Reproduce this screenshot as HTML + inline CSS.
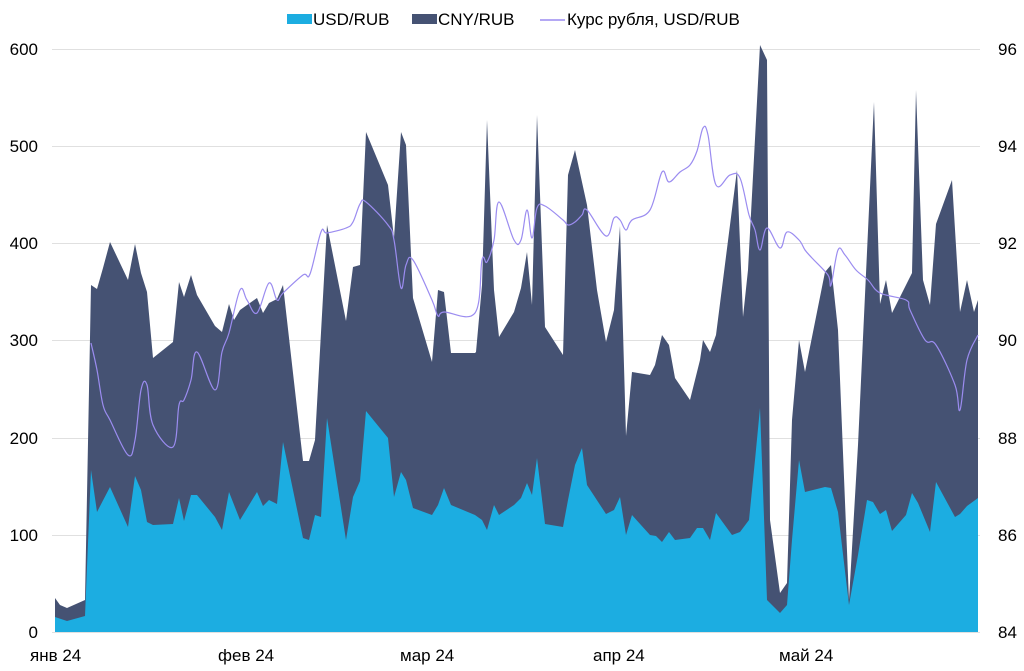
<!DOCTYPE html>
<html><head><meta charset="utf-8"><style>
body{margin:0;background:#fff;}
svg{display:block;font-family:"Liberation Sans",sans-serif;}
</style></head><body>
<svg width="1024" height="671" xmlns="http://www.w3.org/2000/svg">
<g stroke="#e0e0e0" stroke-width="1">
<line x1="52" y1="49.5" x2="980" y2="49.5"/>
<line x1="52" y1="146.5" x2="980" y2="146.5"/>
<line x1="52" y1="243.5" x2="980" y2="243.5"/>
<line x1="52" y1="340.5" x2="980" y2="340.5"/>
<line x1="52" y1="438.5" x2="980" y2="438.5"/>
<line x1="52" y1="535.5" x2="980" y2="535.5"/>
<line x1="52" y1="632.5" x2="980" y2="632.5"/>
</g>
<polygon fill="#455273" points="55,632 55,598 60,605 67,608 85,600 91,285 97,289 103,268 110,242 128,280 135,244 141,273 147,292 153,358 173,342 179,282 184,297 191,275 197,295 215,326 222,332 229,304 234,320 240,310 257,298 263,313 269,303 277,299 283,285 303,461 309,461 315,440 327,225 346,321 353,267 360,265 366,132 388,185 394,238 401,132 406,145 413,298 432,362 438,290 444,292 451,353 475,353 476,352 482,285 487,120 494,290 499,337 514,312 521,288 527,252 532,305 537,115 545,327 563,355 568,175 575,150 587,205 597,290 606,342 614,310 620,226 626,436 632,372 650,375 655,365 662,335 669,345 675,378 690,400 700,360 703,340 710,352 716,335 737,170 743,317 748,270 760,45 767,60 770,520 780,593 787,583 792,420 799,340 805,372 825,272 831,265 838,330 849,600 858,445 874,102 880,304 886,280 892,313 912,273 916,90 923,280 930,305 936,224 952,180 960,312 967,280 974,312 978,300 978,632"/>
<polygon fill="#1cade1" points="55,632 55,617 67,621 85,616 91,470 97,512 110,487 128,527 135,476 141,490 147,522 153,525 173,524 179,498 184,521 191,495 197,495 215,517 222,530 229,492 240,520 257,492 263,506 269,500 277,504 283,442 303,538 309,540 315,515 321,517 327,418 346,540 353,497 360,481 366,411 388,438 394,497 401,472 406,480 413,508 432,515 438,505 444,488 451,505 475,515 482,520 487,530 494,505 499,515 514,505 521,498 527,483 532,495 537,458 545,524 563,527 568,500 575,465 582,448 587,485 606,514 614,510 620,497 626,535 632,515 650,535 656,536 662,542 669,532 675,540 690,538 697,528 703,528 710,540 716,513 732,535 740,532 749,520 755,460 760,408 767,600 780,613 787,605 792,540 799,460 805,492 825,487 831,488 838,512 849,605 858,555 867,500 873,502 880,514 886,510 892,531 906,515 912,493 918,503 930,532 936,482 955,517 960,514 967,506 978,498 978,632"/>
<path id="rate" fill="none" stroke="#9b8cf0" stroke-width="1.2" stroke-linejoin="round" d=""/>
<g font-size="17" fill="#000">
<g text-anchor="end">
<text x="38" y="55">600</text><text x="38" y="152">500</text><text x="38" y="249">400</text><text x="38" y="346">300</text><text x="38" y="444">200</text><text x="38" y="541">100</text><text x="38" y="638">0</text>
</g>
<g text-anchor="start">
<text x="998" y="55">96</text><text x="998" y="152">94</text><text x="998" y="249">92</text><text x="998" y="346">90</text><text x="998" y="444">88</text><text x="998" y="541">86</text><text x="998" y="638">84</text>
</g>
<text x="30" y="661">янв 24</text><text x="218" y="661">фев 24</text><text x="400" y="661">мар 24</text><text x="593" y="661">апр 24</text><text x="779" y="661">май 24</text>
<rect x="287" y="14" width="25" height="10" fill="#1cade1"/><text x="313" y="25">USD/RUB</text>
<rect x="412" y="14" width="25" height="10" fill="#455273"/><text x="438" y="25">CNY/RUB</text>
<line x1="540" y1="20" x2="565" y2="20" stroke="#9b8cf0" stroke-width="1.5"/><text x="567" y="25">Курс рубля, USD/RUB</text>
</g>
</svg>
<script>
var s="91,343 97,370 103,405 110,420 128,455 135,440 141,390 147,385 153,425 173,447 179,405 184,400 191,380 197,352 215,390 222,352 229,333 240,290 247,300 257,313 269,283 277,300 283,293 303,275 310,274 321,232 327,233 346,228 353,222 360,204 366,202 388,225 394,240 401,288 406,265 413,260 432,300 438,316 444,312 475,313 482,260 487,262 494,240 499,202 514,240 521,240 527,210 532,238 537,208 545,206 563,220 568,225 575,222 582,215 587,210 606,236 614,218 620,220 626,230 632,220 650,210 662,172 669,182 680,172 690,165 697,151 703,128 708,135 716,185 730,175 740,178 749,215 755,230 760,250 767,228 780,248 787,232 799,240 805,250 812,258 828,275 831,285 838,250 845,255 856,270 868,280 880,293 906,300 910,310 925,340 936,345 955,385 960,410 967,360 978,335";
var p=s.split(" ").map(function(t){return t.split(",").map(Number);});
var d="M"+p[0][0]+","+p[0][1];
for(var i=0;i<p.length-1;i++){var a=p[i-1]||p[i],b=p[i],c=p[i+1],e=p[i+2]||c;
var k=0.18;d+=" C"+(b[0]+(c[0]-a[0])*k)+","+(b[1]+(c[1]-a[1])*k)+" "+(c[0]-(e[0]-b[0])*k)+","+(c[1]-(e[1]-b[1])*k)+" "+c[0]+","+c[1];}
document.getElementById("rate").setAttribute("d",d);
</script>
</body></html>
